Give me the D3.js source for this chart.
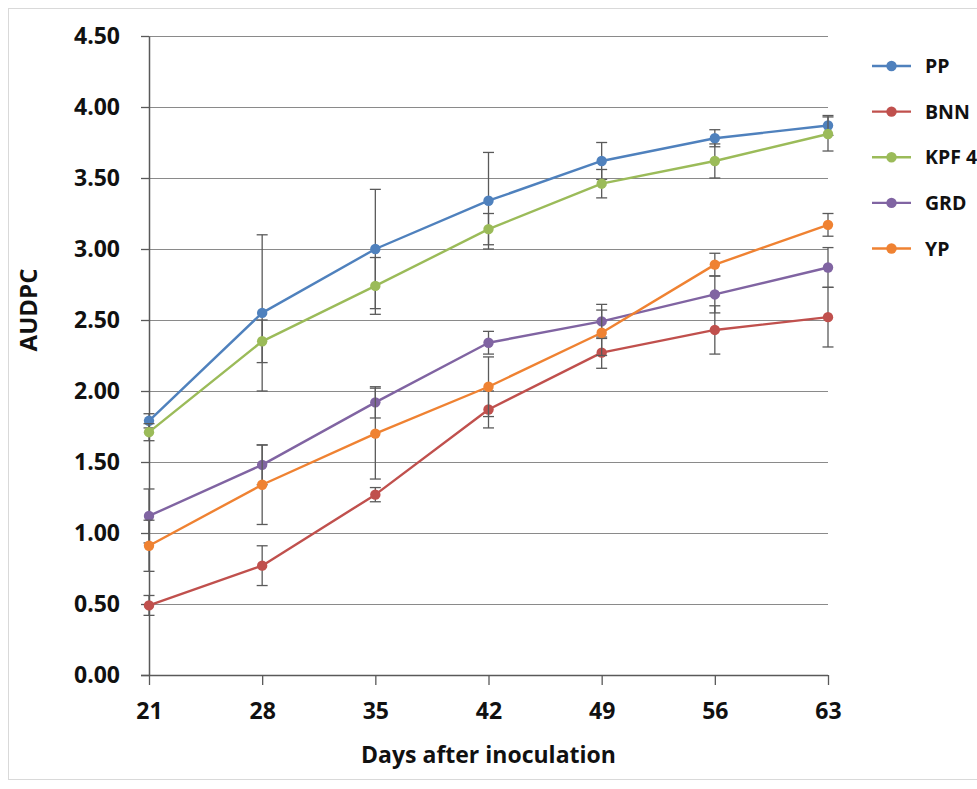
<!DOCTYPE html>
<html>
<head>
<meta charset="utf-8">
<script src="https://cdn.jsdelivr.net/npm/d3@7"></script>
<style>
  html, body { margin: 0; padding: 0; background: #fff; }
  svg { display: block; font-family: "Open Sans", "DejaVu Sans", sans-serif; }
</style>
</head>
<body>
<svg id="chart" width="977" height="789"></svg>
<script>
// Days after inoculation
const days = [21, 28, 35, 42, 49, 56, 63];

// AUDPC means per isolate
const ppValues   = [1.79, 2.55, 3.00, 3.34, 3.62, 3.78, 3.87];
const bnnValues  = [0.49, 0.77, 1.27, 1.87, 2.27, 2.43, 2.52];
const kpfValues  = [1.71, 2.35, 2.74, 3.14, 3.46, 3.62, 3.81];
const grdValues  = [1.12, 1.48, 1.92, 2.34, 2.49, 2.68, 2.87];
const ypValues   = [0.91, 1.34, 1.70, 2.03, 2.41, 2.89, 3.17];

// Error bar half-widths
const ppErr  = [0.05, 0.55, 0.42, 0.34, 0.13, 0.06, 0.07];
const bnnErr = [0.07, 0.14, 0.05, 0.13, 0.11, 0.17, 0.21];
const kpfErr = [0.06, 0.15, 0.20, 0.11, 0.10, 0.12, 0.12];
const grdErr = [0.19, 0.14, 0.11, 0.08, 0.12, 0.13, 0.14];
const ypErr  = [0.18, 0.28, 0.32, 0.21, 0.16, 0.08, 0.08];

const seriesNames = ["PP", "BNN", "KPF 4", "GRD", "YP"];
const seriesColors = ["#4F81BD", "#C0504D", "#9BBB59", "#8064A2", "#EF8232"];

const yTicks = [0, 0.5, 1, 1.5, 2, 2.5, 3, 3.5, 4, 4.5];

const series = [
  { name: seriesNames[0], color: seriesColors[0], values: ppValues,  err: ppErr },
  { name: seriesNames[1], color: seriesColors[1], values: bnnValues, err: bnnErr },
  { name: seriesNames[2], color: seriesColors[2], values: kpfValues, err: kpfErr },
  { name: seriesNames[3], color: seriesColors[3], values: grdValues, err: grdErr },
  { name: seriesNames[4], color: seriesColors[4], values: ypValues,  err: ypErr }
];

const svg = d3.select("#chart");

// outer chart border
svg.append("rect")
  .attr("x", 8.5).attr("y", 8.5)
  .attr("width", 1000).attr("height", 771)
  .attr("fill", "#fff")
  .attr("stroke", "#d9d9d9").attr("stroke-width", 1);

const x = d3.scalePoint().domain(days).range([149, 828]).padding(0);
const y = d3.scaleLinear().domain([0, 4.5]).range([675, 36]);

// horizontal gridlines
svg.append("g")
  .selectAll("line")
  .data(yTicks.filter(d => d > 0))
  .join("line")
  .attr("x1", 149).attr("x2", 828)
  .attr("y1", d => Math.round(y(d)) + 0.5)
  .attr("y2", d => Math.round(y(d)) + 0.5)
  .attr("stroke", "#8a8a8a").attr("stroke-width", 1);

// y axis
const yAxis = svg.append("g")
  .attr("transform", "translate(149,0)")
  .call(d3.axisLeft(y).tickValues(yTicks).tickFormat(d3.format(".2f")).tickSize(8).tickPadding(21).tickSizeOuter(0));
yAxis.select(".domain").attr("stroke", "#595959").attr("stroke-width", 1.5);
yAxis.selectAll(".tick line").attr("stroke", "#595959").attr("stroke-width", 1.3);
yAxis.selectAll(".tick text")
  .attr("fill", "#111").attr("font-size", 23).attr("font-weight", 700)
  .attr("font-family", "'Open Sans', sans-serif");

// x axis
const xAxis = svg.append("g")
  .attr("transform", "translate(0,675)")
  .call(d3.axisBottom(x).tickSize(10).tickPadding(18).tickSizeOuter(0));
xAxis.select(".domain").attr("stroke", "#595959").attr("stroke-width", 1.5)
  .attr("d", "M141,0.5H828");
xAxis.selectAll(".tick line").attr("stroke", "#595959").attr("stroke-width", 1.3);
xAxis.selectAll(".tick text")
  .attr("fill", "#111").attr("font-size", 23).attr("font-weight", 700)
  .attr("font-family", "'Open Sans', sans-serif");

// axis titles
svg.append("text")
  .attr("x", 488.5).attr("y", 763)
  .attr("text-anchor", "middle")
  .attr("font-size", 23).attr("font-weight", 700).attr("fill", "#111")
  .text("Days after inoculation");

svg.append("text")
  .attr("transform", "translate(37,310) rotate(-90)")
  .attr("text-anchor", "middle")
  .attr("font-size", 24).attr("font-weight", 700).attr("fill", "#111")
  .text("AUDPC");

const line = d3.line().x((d, i) => x(days[i])).y(d => y(d));
const capHalf = 5.5;

const plot = svg.append("g");

series.forEach(s => {
  const g = plot.append("g");
  // error bars
  const eb = g.append("g").selectAll("g")
    .data(s.values.map((v, i) => ({ day: days[i], v, e: s.err[i] })))
    .join("g");
  eb.append("line")
    .attr("x1", d => x(d.day)).attr("x2", d => x(d.day))
    .attr("y1", d => y(d.v + d.e)).attr("y2", d => y(d.v - d.e))
    .attr("stroke", "#5a5a5a").attr("stroke-width", 1.3);
  eb.append("line")
    .attr("x1", d => x(d.day) - capHalf).attr("x2", d => x(d.day) + capHalf)
    .attr("y1", d => y(d.v + d.e)).attr("y2", d => y(d.v + d.e))
    .attr("stroke", "#5a5a5a").attr("stroke-width", 1.3);
  eb.append("line")
    .attr("x1", d => x(d.day) - capHalf).attr("x2", d => x(d.day) + capHalf)
    .attr("y1", d => y(d.v - d.e)).attr("y2", d => y(d.v - d.e))
    .attr("stroke", "#5a5a5a").attr("stroke-width", 1.3);

  g.append("path")
    .attr("d", line(s.values))
    .attr("fill", "none").attr("stroke", s.color).attr("stroke-width", 2.4)
    .attr("stroke-linejoin", "round");

  g.append("g").selectAll("circle")
    .data(s.values)
    .join("circle")
    .attr("cx", (d, i) => x(days[i])).attr("cy", d => y(d))
    .attr("r", 5.2).attr("fill", s.color);
});

// legend
const legend = svg.append("g");
const legendY = d3.scalePoint().domain(seriesNames).range([66, 248.5]);
series.forEach(s => {
  const ly = legendY(s.name);
  legend.append("line")
    .attr("x1", 872).attr("x2", 911).attr("y1", ly).attr("y2", ly)
    .attr("stroke", s.color).attr("stroke-width", 2.4);
  legend.append("circle")
    .attr("cx", 891.5).attr("cy", ly).attr("r", 5.2).attr("fill", s.color);
  legend.append("text")
    .attr("x", 925).attr("y", ly).attr("dy", "0.36em")
    .attr("font-size", 19.5).attr("font-weight", 700).attr("fill", "#111")
    .text(s.name);
});
</script>
</body>
</html>
